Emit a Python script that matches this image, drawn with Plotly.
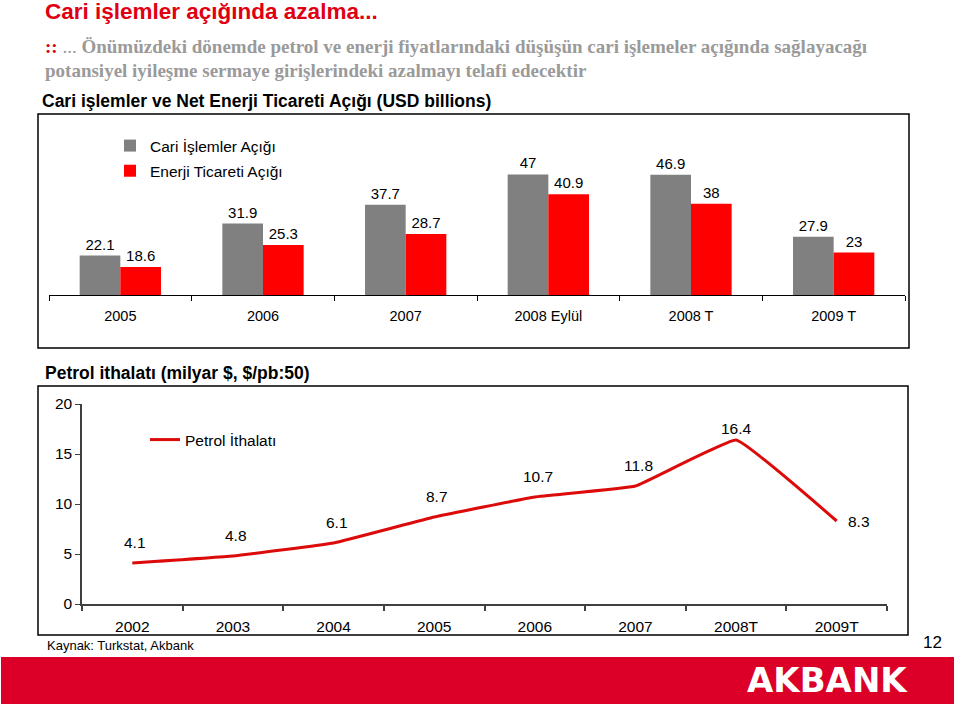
import plotly.graph_objects as go

# ---------- data ----------
bar_categories = ["2005", "2006", "2007", "2008 Eylül", "2008 T", "2009 T"]
cari_islemler = [22.1, 31.9, 37.7, 47, 46.9, 27.9]
enerji_ticareti = [18.6, 25.3, 28.7, 40.9, 38, 23]

line_categories = ["2002", "2003", "2004", "2005", "2006", "2007", "2008T", "2009T"]
petrol_ithalati = [4.1, 4.8, 6.1, 8.7, 10.7, 11.8, 16.4, 8.3]

W, H = 960, 708
FONT = "Arial, 'Liberation Sans', sans-serif"
SERIF = "'Liberation Serif', 'Times New Roman', serif"


def px(x):
    return x / W


def py(y):
    return 1 - y / H


fig = go.Figure()

fig.add_trace(go.Bar(
    x=bar_categories, y=cari_islemler, name="Cari İşlemler Açığı",
    marker=dict(color="#808080", line=dict(width=0)),
    text=[f"{v:g}" for v in cari_islemler], textposition="outside",
    textfont=dict(size=15, color="black", family=FONT), cliponaxis=False,
    xaxis="x", yaxis="y", legend="legend", legendgroup="a",
))
fig.add_trace(go.Bar(
    x=bar_categories, y=enerji_ticareti, name="Enerji Ticareti Açığı",
    marker=dict(color="#FF0000", line=dict(width=0)),
    text=[f"{v:g}" for v in enerji_ticareti], textposition="outside",
    textfont=dict(size=15, color="black", family=FONT), cliponaxis=False,
    xaxis="x", yaxis="y", legend="legend", legendgroup="b",
))

fig.add_trace(go.Scatter(
    x=line_categories, y=petrol_ithalati, name="Petrol İthalatı",
    mode="lines", line=dict(color="#DD0A0A", width=3, shape="spline", smoothing=0.25),
    xaxis="x2", yaxis="y2", legend="legend2",
))

annotations = []
peak = max(petrol_ithalati)
for i, v in enumerate(petrol_ithalati):
    last = i == len(petrol_ithalati) - 1
    if last:
        xs, ys = 22, 0
    elif v == peak:
        xs, ys = 0, 12
    else:
        xs, ys = 3, 21
    annotations.append(dict(
        x=i, y=v, xref="x2", yref="y2", text=f"{v:g}", showarrow=False,
        xshift=xs, yshift=ys,
        font=dict(size=15.5, color="black", family=FONT),
    ))

annotations += [
    dict(x=px(43), y=py(12), xref="paper", yref="paper", xanchor="left", yanchor="middle",
         text="<b>Cari işlemler açığında azalma...</b>", showarrow=False,
         font=dict(size=22.5, color="#E00012", family=FONT)),
    dict(x=px(43), y=py(46), xref="paper", yref="paper", xanchor="left", yanchor="middle",
         text="<span style='color:#E00012'><b>::</b></span> ... <b>Önümüzdeki dönemde petrol ve enerji fiyatlarındaki düşüşün cari işlemeler açığında sağlayacağı</b>",
         showarrow=False, font=dict(size=19, color="#9A9A9A", family=SERIF)),
    dict(x=px(43), y=py(70), xref="paper", yref="paper", xanchor="left", yanchor="middle",
         text="<b>potansiyel iyileşme sermaye girişlerindeki azalmayı telafi edecektir</b>",
         showarrow=False, font=dict(size=19, color="#9A9A9A", family=SERIF)),
    dict(x=px(40), y=py(101), xref="paper", yref="paper", xanchor="left", yanchor="middle",
         text="<b>Cari işlemler ve Net Enerji Ticareti Açığı (USD billions)</b>", showarrow=False,
         font=dict(size=17.5, color="black", family=FONT)),
    dict(x=px(43), y=py(373), xref="paper", yref="paper", xanchor="left", yanchor="middle",
         text="<b>Petrol ithalatı (milyar $, $/pb:50)</b>", showarrow=False,
         font=dict(size=17.5, color="black", family=FONT)),
    dict(x=px(45), y=py(645), xref="paper", yref="paper", xanchor="left", yanchor="middle",
         text="Kaynak: Turkstat, Akbank", showarrow=False,
         font=dict(size=13, color="black", family=FONT)),
    dict(x=px(932), y=py(642), xref="paper", yref="paper", xanchor="center", yanchor="middle",
         text="12", showarrow=False, font=dict(size=17, color="black", family=FONT)),
    dict(x=px(827), y=py(680), xref="paper", yref="paper", xanchor="center", yanchor="middle",
         text="<b>AKBANK</b>", showarrow=False,
         font=dict(size=34, color="white", family="'DejaVu Sans', sans-serif")),
]

shapes = [
    dict(type="rect", xref="paper", yref="paper", x0=px(38), x1=px(909), y0=py(348), y1=py(114),
         line=dict(color="black", width=1.5), fillcolor="rgba(0,0,0,0)", layer="below"),
    dict(type="rect", xref="paper", yref="paper", x0=px(38), x1=px(908), y0=py(635), y1=py(386),
         line=dict(color="black", width=1.5), fillcolor="rgba(0,0,0,0)", layer="below"),
    dict(type="rect", xref="paper", yref="paper", x0=px(1), x1=px(954), y0=py(704), y1=py(657),
         line=dict(width=0), fillcolor="#DC0028", layer="below"),
]

fig.update_layout(
    width=W, height=H, margin=dict(l=0, r=0, t=0, b=0, pad=0, autoexpand=False),
    paper_bgcolor="white", plot_bgcolor="white",
    font=dict(family=FONT, color="black", size=14),
    barmode="group", bargap=0.43, bargroupgap=0,
    annotations=annotations, shapes=shapes,
    xaxis=dict(domain=[px(49), px(905)], anchor="y", type="category",
               range=[-0.5, len(bar_categories) - 0.5], automargin=False,
               showline=True, linecolor="black", linewidth=1,
               ticks="outside", tickson="boundaries", ticklen=5, tickcolor="black",
               ticklabelstandoff=8,
               tickfont=dict(size=14.5, family=FONT), showgrid=False, fixedrange=True),
    yaxis=dict(domain=[py(295), py(132)], anchor="x", range=[10, 60], automargin=False,
               visible=False, showgrid=False, fixedrange=True),
    xaxis2=dict(domain=[px(82), px(887)], anchor="y2", type="category",
                range=[-0.5, len(line_categories) - 0.5], automargin=False, tickangle=0,
                showline=True, linecolor="#404040", linewidth=2,
                ticks="outside", tickson="boundaries", ticklen=5, tickcolor="#404040", tickwidth=1.5,
                ticklabelstandoff=7,
                tickfont=dict(size=15.5, family=FONT), showgrid=False, fixedrange=True),
    yaxis2=dict(domain=[py(604), py(404)], anchor="x2", range=[0, 20], dtick=5, automargin=False,
                showline=True, linecolor="#404040", linewidth=1.5,
                ticks="outside", ticklen=5, tickcolor="#404040",
                tickfont=dict(size=15.5, family=FONT), showgrid=False, zeroline=False,
                fixedrange=True),
    legend=dict(x=px(110), y=py(129), xanchor="left", yanchor="top",
                bgcolor="rgba(0,0,0,0)", font=dict(size=15.5, family=FONT),
                tracegroupgap=2, itemwidth=30, traceorder="grouped"),
    legend2=dict(x=px(145), y=py(423), xanchor="left", yanchor="top",
                 bgcolor="rgba(0,0,0,0)", font=dict(size=15.5, family=FONT), itemwidth=30),
    showlegend=True,
)

fig.write_html("out.html", config={"displayModeBar": False},
               post_script="document.body.style.margin='0';document.body.style.overflow='hidden';")
